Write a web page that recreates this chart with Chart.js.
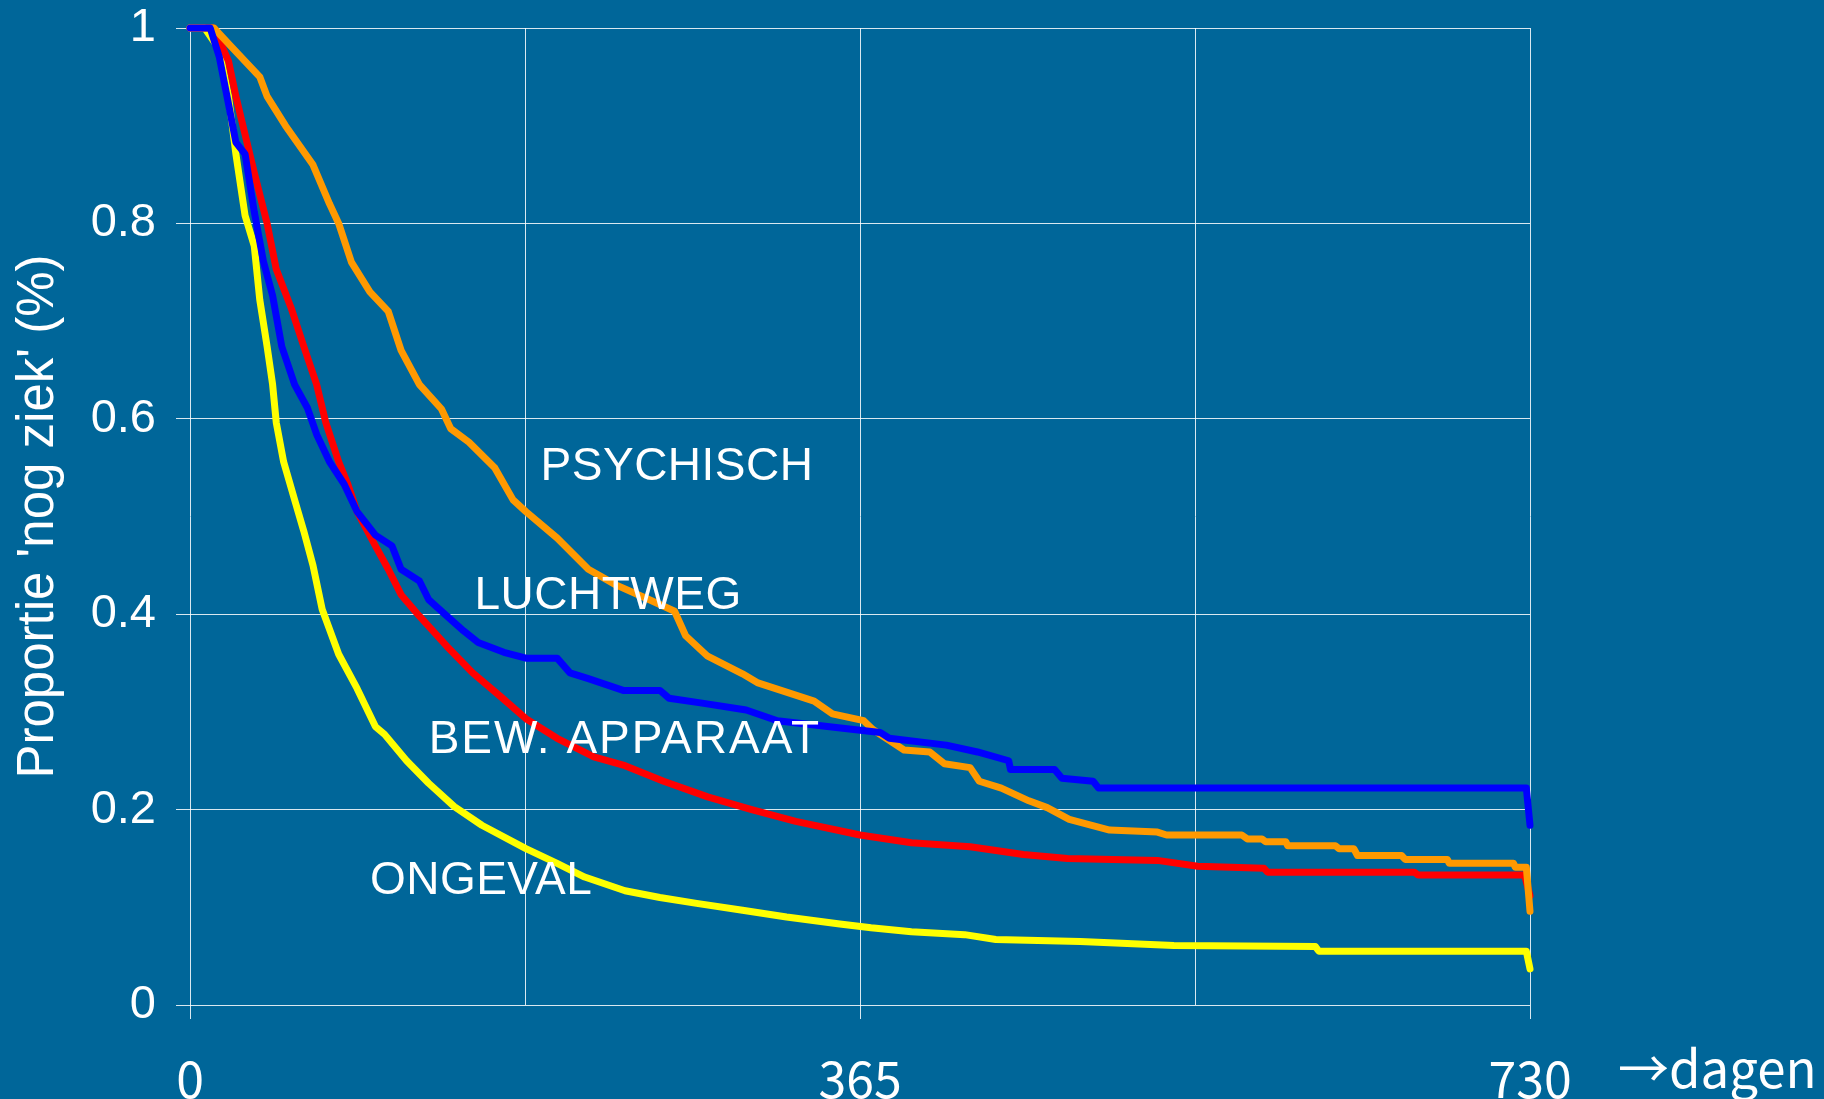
<!DOCTYPE html>
<html>
<head>
<meta charset="utf-8">
<script src="https://cdn.jsdelivr.net/npm/chart.js@4.4.0/dist/chart.umd.min.js"></script>
<style>
    html, body { margin: 0; padding: 0; background: #006699; overflow: hidden; }
    #wrap { width: 1824px; height: 1099px; }
</style>
</head>
<body>
<div id="wrap"><canvas id="chart" width="1824" height="1099"></canvas></div>
<script>
// x: dagen, y: proportie nog ziek
const xTickValues = [0, 365, 730];
const xTickLabels = ["0", "365", "730"];
const yTickLabels = ["0", "0.2", "0.4", "0.6", "0.8", "1"];

const ongevalDays = [0, 8, 16, 21, 25, 30, 35, 38, 42, 45, 47, 51, 57, 62, 67, 72, 81, 91, 101, 106, 118, 130, 144, 159, 183, 200, 215, 237, 256, 276, 301, 325, 354, 371, 393, 422, 439, 485, 536, 613, 615, 728, 730];
const ongevalValues = [1, 1, 0.978, 0.93, 0.871, 0.808, 0.777, 0.722, 0.674, 0.635, 0.596, 0.556, 0.517, 0.485, 0.45, 0.405, 0.359, 0.324, 0.285, 0.277, 0.25, 0.227, 0.203, 0.184, 0.16, 0.145, 0.131, 0.117, 0.11, 0.104, 0.097, 0.09, 0.083, 0.079, 0.075, 0.072, 0.067, 0.065, 0.061, 0.06, 0.055, 0.055, 0.037];

const bewegingDays = [0, 13, 21, 25, 30, 35, 42, 47, 55, 62, 69, 74, 81, 86, 91, 101, 108, 115, 125, 140, 154, 169, 183, 200, 220, 237, 258, 282, 306, 330, 365, 393, 425, 454, 478, 527, 549, 585, 587, 667, 669, 727, 730];
const bewegingValues = [1, 1, 0.966, 0.93, 0.891, 0.852, 0.8, 0.753, 0.714, 0.674, 0.635, 0.596, 0.556, 0.533, 0.505, 0.47, 0.446, 0.42, 0.398, 0.367, 0.34, 0.316, 0.293, 0.273, 0.254, 0.245, 0.229, 0.213, 0.2, 0.188, 0.174, 0.166, 0.162, 0.154, 0.15, 0.148, 0.142, 0.14, 0.136, 0.136, 0.133, 0.133, 0.112];

const luchtwegDays = [0, 11, 16, 21, 25, 30, 35, 40, 45, 50, 57, 64, 69, 76, 84, 91, 101, 110, 115, 125, 130, 140, 149, 157, 171, 183, 200, 207, 217, 236, 256, 261, 279, 303, 320, 352, 376, 381, 412, 429, 446, 447, 471, 475, 492, 495, 728, 730];
const luchtwegValues = [1, 1, 0.97, 0.922, 0.883, 0.871, 0.812, 0.761, 0.726, 0.674, 0.635, 0.611, 0.584, 0.556, 0.533, 0.505, 0.481, 0.47, 0.446, 0.434, 0.415, 0.398, 0.383, 0.371, 0.361, 0.355, 0.355, 0.34, 0.334, 0.322, 0.322, 0.314, 0.309, 0.302, 0.291, 0.284, 0.279, 0.273, 0.266, 0.259, 0.25, 0.241, 0.241, 0.232, 0.229, 0.222, 0.222, 0.184];

const psychischDays = [0, 13, 23, 38, 42, 52, 67, 76, 81, 88, 98, 108, 115, 125, 137, 142, 152, 166, 176, 183, 200, 217, 232, 250, 264, 270, 282, 301, 309, 340, 350, 367, 372, 389, 403, 411, 425, 430, 442, 457, 467, 479, 501, 527, 532, 573, 576, 584, 586, 597, 598, 624, 626, 634, 636, 660, 662, 685, 686, 721, 722, 728, 730];
const psychischValues = [1, 1, 0.98, 0.95, 0.93, 0.9, 0.86, 0.82, 0.8, 0.76, 0.73, 0.71, 0.67, 0.635, 0.61, 0.59, 0.576, 0.55, 0.517, 0.505, 0.478, 0.446, 0.43, 0.415, 0.403, 0.378, 0.357, 0.339, 0.33, 0.311, 0.298, 0.291, 0.282, 0.261, 0.259, 0.247, 0.243, 0.229, 0.222, 0.209, 0.202, 0.19, 0.179, 0.177, 0.174, 0.174, 0.17, 0.17, 0.167, 0.167, 0.163, 0.163, 0.16, 0.16, 0.153, 0.153, 0.149, 0.149, 0.145, 0.145, 0.141, 0.141, 0.096];

// curve labels, anchored in data space (left edge, vertical middle)
const labelTexts = ["PSYCHISCH", "LUCHTWEG", "BEW. APPARAAT", "ONGEVAL"];
const labelDays = [191, 155, 130, 98];
const labelValues = [0.55, 0.418, 0.271, 0.127];

const toPoints = (days, values) => days.map((d, i) => ({ x: d, y: values[i] }));

//Curve labels and the "→dagen" axis note
const textPlugin = {
    id: "textPlugin",
    afterDatasetsDraw(chart) {
        const ctx = chart.ctx;
        const xs = chart.scales.x;
        const ys = chart.scales.y;
        ctx.save();
        ctx.fillStyle = "#ffffff";
        ctx.font = "46px 'Liberation Sans', Arial, sans-serif";
        ctx.textAlign = "left";
        ctx.textBaseline = "middle";
        labelTexts.forEach((t, i) => {
            ctx.letterSpacing = t.length > 10 ? "2px" : "0.5px";
            ctx.fillText(t, xs.getPixelForValue(labelDays[i]), ys.getPixelForValue(labelValues[i]));
        });
        ctx.restore();
    },
    afterDraw(chart) {
        const ctx = chart.ctx;
        const area = chart.chartArea;
        ctx.save();
        ctx.fillStyle = "#ffffff";
        ctx.font = "51px 'Noto Sans CJK JP', sans-serif";
        ctx.textAlign = "left";
        ctx.textBaseline = "alphabetic";
        ctx.fillText("→dagen", area.right + 88, area.bottom + 83);
        ctx.restore();
    }
};

const lineStyle = {
    borderWidth: 7,
    pointRadius: 0,
    tension: 0,
    fill: false,
    clip: false,
    borderCapStyle: "round",
    borderJoinStyle: "round"
};

const gridColor = "rgba(255,255,255,0.85)";

new Chart(document.querySelector("#chart").getContext("2d"), {
    type: "line",
    data: {
        datasets: [
            { label: "LUCHTWEG", data: toPoints(luchtwegDays, luchtwegValues), borderColor: "#0000ff", ...lineStyle },
            { label: "PSYCHISCH", data: toPoints(psychischDays, psychischValues), borderColor: "#ff9900", ...lineStyle },
            { label: "BEW. APPARAAT", data: toPoints(bewegingDays, bewegingValues), borderColor: "#ff0000", ...lineStyle },
            { label: "ONGEVAL", data: toPoints(ongevalDays, ongevalValues), borderColor: "#ffff00", ...lineStyle }
        ]
    },
    options: {
        responsive: false,
        devicePixelRatio: 1,
        animation: false,
        layout: { padding: { top: 28, right: 294, left: 0, bottom: 0 } },
        plugins: {
            legend: { display: false },
            tooltip: { enabled: false }
        },
        scales: {
            x: {
                type: "linear",
                min: 0,
                max: 730,
                border: { display: false },
                grid: {
                    color: gridColor,
                    lineWidth: 1,
                    tickLength: 14,
                    tickColor: (c) => xTickValues.includes(c.tick.value) ? gridColor : "rgba(0,0,0,0)"
                },
                ticks: {
                    stepSize: 182.5,
                    color: "#ffffff",
                    padding: 30,
                    maxRotation: 0,
                    autoSkip: false,
                    font: { family: "'Noto Sans CJK JP', sans-serif", size: 50 },
                    callback: (v) => {
                        const i = xTickValues.indexOf(v);
                        return i >= 0 ? xTickLabels[i] : "";
                    }
                },
                afterFit: (s) => {
                    s.height = 94;
                    s.paddingLeft = 0;
                    s.paddingRight = 0;
                }
            },
            y: {
                min: 0,
                max: 1,
                border: { display: false },
                grid: { color: gridColor, lineWidth: 1, tickLength: 14 },
                ticks: {
                    stepSize: 0.2,
                    color: "#ffffff",
                    padding: 20,
                    font: { family: "'Liberation Sans', Arial, sans-serif", size: 47 },
                    callback: (v) => yTickLabels[Math.round(v * 5)]
                },
                title: {
                    display: true,
                    text: "Proportie 'nog ziek' (%)",
                    color: "#ffffff",
                    padding: { top: 8, bottom: 0 },
                    font: { family: "'Liberation Sans', Arial, sans-serif", size: 51 }
                },
                afterFit: (s) => {
                    s.width = 190;
                    s.paddingTop = 0;
                    s.paddingBottom = 0;
                }
            }
        }
    },
    plugins: [textPlugin]
});
</script>
</body>
</html>
